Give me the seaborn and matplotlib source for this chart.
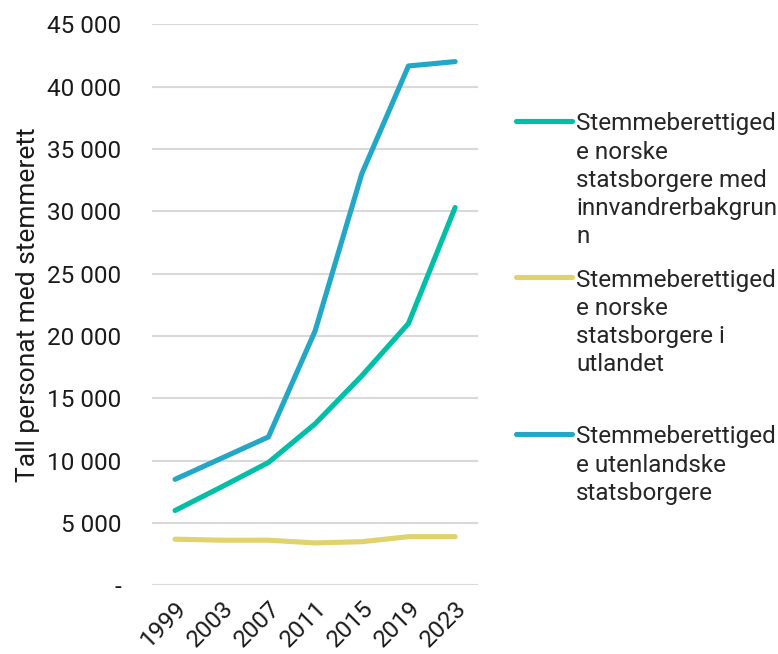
import pandas as pd
import seaborn as sns
import matplotlib.pyplot as plt
from matplotlib.ticker import FuncFormatter

years = ["1999", "2003", "2007", "2011", "2015", "2019", "2023"]
norske_innvandrer = [6000, 7900, 9850, 12950, 16800, 21000, 30300]
norske_utland = [3700, 3620, 3620, 3400, 3500, 3900, 3900]
utenlandske = [8500, 10200, 11900, 20400, 33000, 41650, 42000]

labels = [
    "Stemmeberettiged\ne norske\nstatsborgere med\ninnvandrerbakgrun\nn",
    "Stemmeberettiged\ne norske\nstatsborgere i\nutlandet\n",
    "Stemmeberettiged\ne utenlandske\nstatsborgere",
]
colors = ["#00BFA7", "#E0D26C", "#22A8C6"]

df = pd.concat([
    pd.DataFrame({"year": years, "value": norske_innvandrer, "serie": labels[0]}),
    pd.DataFrame({"year": years, "value": norske_utland, "serie": labels[1]}),
    pd.DataFrame({"year": years, "value": utenlandske, "serie": labels[2]}),
])

sns.set_theme(style="white")
plt.rcParams["font.family"] = ["Roboto", "DejaVu Sans"]

fig, ax = plt.subplots(figsize=(7.78, 6.54), dpi=100)
fig.subplots_adjust(left=0.195, right=0.615, top=0.963, bottom=0.105)

sns.lineplot(data=df, x="year", y="value", hue="serie", palette=colors,
             linewidth=3.7, ax=ax, sort=False, solid_capstyle="round")

ax.set_ylim(0, 45000)
ax.set_yticks(range(0, 45001, 5000))
ax.yaxis.set_major_formatter(FuncFormatter(
    lambda v, p: "-" if v == 0 else f"{int(v):,}".replace(",", " ")))
ax.set_xlim(-0.5, len(years) - 0.5)
ax.grid(axis="y", color="#d9d9d9", linewidth=1.5)
ax.grid(axis="x", visible=False)
sns.despine(ax=ax, left=True, bottom=True)
ax.tick_params(axis="both", length=0, labelsize=17.5, colors="#1a1a1a")
ax.tick_params(axis="y", pad=22)
ax.tick_params(axis="x", pad=8)
plt.setp(ax.get_xticklabels(), rotation=45, ha="right", rotation_mode="anchor")
ax.set_xlabel("")
ax.set_ylabel("Tall personat med stemmerett", fontsize=19, color="#1a1a1a", labelpad=5)

leg = ax.legend(loc="upper left", bbox_to_anchor=(1.049, 0.882), frameon=False,
                fontsize=17.5, handlelength=2.3, handletextpad=0.16, labelspacing=0.85)
for t in leg.get_texts():
    t.set_linespacing(1.29)
for col in leg._legend_handle_box.get_children():
    for row in col.get_children():
        row.align = "top"

plt.savefig("out.png", dpi=100)
